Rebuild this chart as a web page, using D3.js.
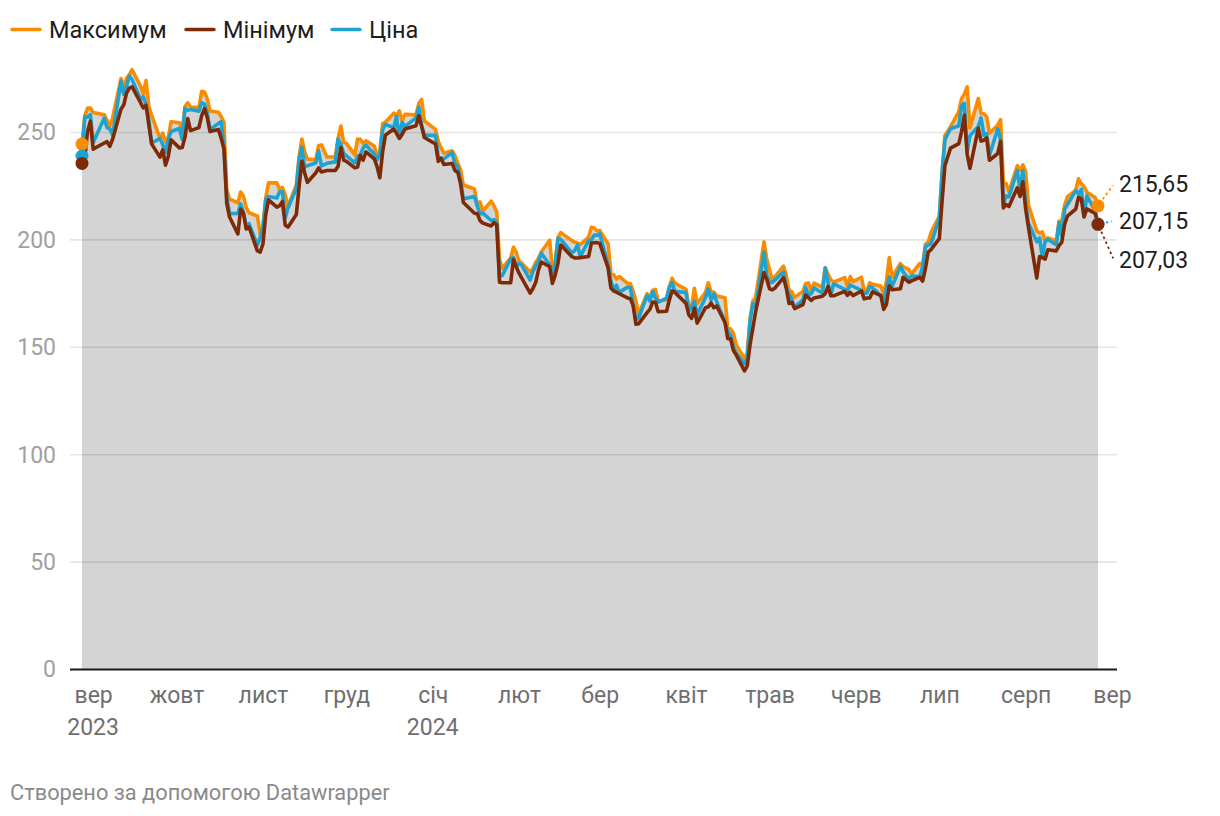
<!DOCTYPE html>
<html><head><meta charset="utf-8">
<script src="https://cdn.jsdelivr.net/npm/d3@7"></script>
<style>
html,body{margin:0;padding:0;background:#fff;}
svg{display:block;font-family:Roboto,"Noto Sans",sans-serif;}
</style>
</head><body>
<svg id="chart" width="1220" height="816"></svg>
<script>
// ---------- DATA ----------
const tradingDays = [
"2023-08-28","2023-08-29","2023-08-30","2023-08-31",
"2023-09-01","2023-09-05","2023-09-06","2023-09-07","2023-09-08","2023-09-11","2023-09-12","2023-09-13","2023-09-14","2023-09-15","2023-09-18","2023-09-19","2023-09-20","2023-09-21","2023-09-22","2023-09-25","2023-09-26","2023-09-27","2023-09-28","2023-09-29",
"2023-10-02","2023-10-03","2023-10-04","2023-10-05","2023-10-06","2023-10-09","2023-10-10","2023-10-11","2023-10-12","2023-10-13","2023-10-16","2023-10-17","2023-10-18","2023-10-19","2023-10-20","2023-10-23","2023-10-24","2023-10-25","2023-10-26","2023-10-27","2023-10-30","2023-10-31",
"2023-11-01","2023-11-02","2023-11-03","2023-11-06","2023-11-07","2023-11-08","2023-11-09","2023-11-10","2023-11-13","2023-11-14","2023-11-15","2023-11-16","2023-11-17","2023-11-20","2023-11-21","2023-11-22","2023-11-24","2023-11-27","2023-11-28","2023-11-29","2023-11-30",
"2023-12-01","2023-12-04","2023-12-05","2023-12-06","2023-12-07","2023-12-08","2023-12-11","2023-12-12","2023-12-13","2023-12-14","2023-12-15","2023-12-18","2023-12-19","2023-12-20","2023-12-21","2023-12-22","2023-12-26","2023-12-27","2023-12-28","2023-12-29",
"2024-01-02","2024-01-03","2024-01-04","2024-01-05","2024-01-08","2024-01-09","2024-01-10","2024-01-11","2024-01-12","2024-01-16","2024-01-17","2024-01-18","2024-01-19","2024-01-22","2024-01-23","2024-01-24","2024-01-25","2024-01-26","2024-01-29","2024-01-30","2024-01-31",
"2024-02-01","2024-02-02","2024-02-05","2024-02-06","2024-02-07","2024-02-08","2024-02-09","2024-02-12","2024-02-13","2024-02-14","2024-02-15","2024-02-16","2024-02-20","2024-02-21","2024-02-22","2024-02-23","2024-02-26","2024-02-27","2024-02-28","2024-02-29",
"2024-03-01","2024-03-04","2024-03-05","2024-03-06","2024-03-07","2024-03-08","2024-03-11","2024-03-12","2024-03-13","2024-03-14","2024-03-15","2024-03-18","2024-03-19","2024-03-20","2024-03-21","2024-03-22","2024-03-25","2024-03-26","2024-03-27","2024-03-28",
"2024-04-01","2024-04-02","2024-04-03","2024-04-04","2024-04-05","2024-04-08","2024-04-09","2024-04-10","2024-04-11","2024-04-12","2024-04-15","2024-04-16","2024-04-17","2024-04-18","2024-04-19","2024-04-22","2024-04-23","2024-04-24","2024-04-25","2024-04-26","2024-04-29","2024-04-30",
"2024-05-01","2024-05-02","2024-05-03","2024-05-06","2024-05-07","2024-05-08","2024-05-09","2024-05-10","2024-05-13","2024-05-14","2024-05-15","2024-05-16","2024-05-17","2024-05-20","2024-05-21","2024-05-22","2024-05-23","2024-05-24","2024-05-28","2024-05-29","2024-05-30","2024-05-31",
"2024-06-03","2024-06-04","2024-06-05","2024-06-06","2024-06-07","2024-06-10","2024-06-11","2024-06-12","2024-06-13","2024-06-14","2024-06-17","2024-06-18","2024-06-20","2024-06-21","2024-06-24","2024-06-25","2024-06-26","2024-06-27","2024-06-28",
"2024-07-01","2024-07-02","2024-07-03","2024-07-05","2024-07-08","2024-07-09","2024-07-10","2024-07-11","2024-07-12","2024-07-15","2024-07-16","2024-07-17","2024-07-18","2024-07-19","2024-07-22","2024-07-23","2024-07-24","2024-07-25","2024-07-26","2024-07-29","2024-07-30","2024-07-31",
"2024-08-01","2024-08-02","2024-08-05","2024-08-06","2024-08-07","2024-08-08","2024-08-09","2024-08-12","2024-08-13","2024-08-14","2024-08-15","2024-08-16","2024-08-19","2024-08-20","2024-08-21","2024-08-22","2024-08-23","2024-08-26","2024-08-27"
];

const maxValues = [
244.38,257.48,261.18,261.18,
259.08,258.00,255.40,252.81,256.52,274.85,270.65,274.98,276.71,278.98,271.44,267.85,273.93,261.97,257.85,247.10,249.55,245.33,247.55,254.77,
254.28,250.65,261.86,263.60,261.65,261.36,268.94,268.60,265.41,259.75,259.18,257.18,254.63,223.00,218.86,216.98,222.05,220.10,214.80,212.41,210.88,202.80,
205.99,219.20,226.37,226.32,223.12,224.15,220.80,215.38,225.40,238.75,246.70,240.88,237.39,237.10,243.62,244.01,238.33,238.33,247.00,252.75,245.22,
244.70,239.37,246.66,246.57,244.58,245.87,243.44,238.99,240.83,253.88,254.50,258.77,257.61,259.84,255.17,258.22,257.97,263.34,265.13,255.19,
251.25,245.68,242.70,240.12,241.25,238.96,235.50,232.50,225.34,223.49,215.67,217.45,213.19,217.80,215.65,212.73,190.58,186.50,191.36,196.36,193.97,
189.88,188.89,184.81,186.50,189.32,191.18,194.12,199.60,186.21,188.89,200.88,203.17,199.44,198.72,198.32,197.57,201.04,205.60,205.30,204.03,
204.14,198.00,184.20,183.56,181.58,182.73,179.53,179.43,176.05,171.17,165.18,174.72,172.82,176.25,176.73,171.20,171.94,178.17,181.91,179.57,
176.75,168.69,168.82,177.19,170.06,175.34,179.81,175.36,175.46,173.68,172.82,158.19,158.33,156.46,150.94,144.44,147.25,163.04,171.34,172.71,198.87,190.95,
185.86,180.80,182.67,187.56,183.26,176.06,175.62,173.00,175.80,179.49,179.74,175.79,179.63,177.75,186.88,183.80,181.30,180.08,182.24,178.15,182.67,180.32,
182.39,175.92,176.15,179.73,179.07,178.29,174.75,180.55,191.50,182.26,188.81,187.20,186.00,183.95,188.80,187.88,197.76,198.72,203.20,
210.89,231.28,248.35,252.37,259.44,265.61,267.59,271.00,251.84,265.60,258.62,258.47,257.14,249.44,253.21,255.76,226.30,226.00,222.28,234.27,232.13,234.68,
231.87,216.13,203.88,202.90,203.49,199.05,200.70,199.26,208.49,208.44,215.88,219.80,222.98,228.22,226.00,224.50,222.00,219.50,215.65
];

const minValues = [
235.35,237.77,250.33,255.05,
242.01,244.86,245.51,243.27,246.67,260.61,262.65,268.10,270.42,271.00,263.76,261.20,262.46,253.49,244.48,238.31,241.66,234.58,238.65,246.35,
242.62,242.80,247.60,256.25,250.65,252.05,257.65,260.90,256.63,250.20,251.19,247.08,242.08,216.78,210.42,202.51,214.11,212.20,204.88,205.77,194.67,194.07,
197.85,211.45,218.40,215.00,215.72,217.64,206.68,205.69,211.61,224.70,236.45,230.96,226.54,231.02,233.34,231.40,232.10,232.10,234.01,242.76,236.91,
236.32,233.29,233.70,239.17,236.85,240.74,237.45,233.87,228.70,240.79,248.53,251.36,249.36,247.00,248.86,251.37,252.91,257.52,252.71,247.43,
244.41,236.32,237.73,234.90,235.30,232.04,231.29,225.95,217.15,212.18,212.01,208.74,207.56,206.27,207.75,206.77,180.06,179.89,179.79,190.61,187.27,
184.28,182.00,175.01,177.11,180.00,185.77,189.48,187.35,179.51,183.35,188.86,197.40,191.95,191.36,191.36,191.50,192.00,198.26,198.44,198.50,
198.15,186.72,177.35,176.02,175.40,174.70,172.75,172.41,169.15,160.51,160.76,165.90,167.42,170.82,170.70,166.30,166.55,171.80,176.00,175.30,
170.21,164.83,163.28,168.01,161.00,168.20,168.60,170.42,168.16,169.04,161.30,153.75,153.78,148.37,146.22,138.80,141.11,151.06,158.60,166.37,184.54,181.38,
177.00,176.51,177.42,182.20,177.40,170.15,170.71,167.82,169.60,174.07,172.86,171.62,172.75,173.52,174.71,178.12,173.85,173.73,175.77,173.93,175.38,173.82,
175.99,172.30,172.73,172.73,175.59,173.81,167.41,169.80,178.40,176.52,177.00,182.37,180.04,180.69,182.39,180.58,186.36,194.05,195.26,
200.35,218.04,234.25,242.46,244.57,250.30,257.86,239.65,233.09,251.73,245.76,246.18,247.20,236.83,240.00,245.63,214.66,216.23,215.33,224.00,220.00,226.79,
214.33,205.78,182.00,192.06,191.48,190.80,195.19,194.67,197.06,198.75,206.94,210.80,214.09,219.56,218.86,210.44,214.21,212.11,207.03
];

const priceValues = [
238.82,257.18,256.90,258.08,
245.01,256.49,251.92,251.49,248.50,273.58,267.48,271.30,276.04,274.39,265.28,266.50,262.59,255.70,244.88,246.99,244.12,240.50,246.38,250.22,
251.60,246.53,261.16,260.05,260.53,259.67,263.62,262.99,258.87,251.12,253.92,254.85,242.68,220.11,211.99,212.08,216.52,212.42,205.76,207.30,197.36,200.84,
205.66,218.51,219.96,219.27,222.18,222.11,209.98,214.65,223.71,237.41,242.84,233.59,234.30,235.60,241.20,234.21,235.45,236.08,246.72,244.14,240.08,
238.83,235.58,238.72,239.37,242.64,243.84,239.74,237.01,239.29,251.05,253.50,252.08,257.22,247.14,254.50,252.54,256.61,261.44,253.18,248.48,
248.42,238.45,237.93,237.49,240.45,234.96,233.94,227.22,218.89,219.91,215.55,211.88,212.19,208.80,209.14,207.83,182.63,183.25,190.93,191.59,187.29,
188.86,187.91,181.06,185.10,187.58,189.56,193.57,188.13,184.02,188.71,200.45,199.95,193.76,194.77,197.41,191.97,199.40,199.73,202.04,201.88,
202.64,188.14,180.74,176.54,178.65,175.34,177.77,177.54,169.48,162.50,163.57,173.80,171.32,175.66,172.82,170.83,172.63,177.67,179.83,175.79,
175.22,166.63,168.38,171.11,164.90,172.98,176.88,171.76,174.60,171.05,161.48,157.11,155.45,149.93,147.05,142.05,144.68,162.13,170.18,168.29,194.05,183.28,
179.99,180.01,181.19,184.76,177.81,174.72,171.97,168.47,171.89,177.55,173.99,174.84,177.46,174.95,186.60,180.11,173.74,179.24,176.75,176.19,178.79,178.08,
176.29,174.77,175.00,177.94,177.48,173.79,170.66,177.29,182.47,178.01,187.44,184.86,181.57,183.01,182.58,187.35,196.37,197.42,197.88,
209.86,231.26,246.39,251.52,252.94,262.33,263.26,241.03,248.23,252.64,256.56,248.50,249.23,239.20,251.51,246.38,215.99,220.25,219.80,232.10,222.62,232.07,
216.86,207.67,198.88,200.64,191.76,198.84,200.00,197.49,207.83,201.38,214.14,216.12,222.72,221.10,223.27,210.66,220.32,213.21,207.15
];

const seriesNames = ["Максимум", "Мінімум", "Ціна"];
const monthTickDates = ["2023-09-01","2023-10-01","2023-11-01","2023-12-01","2024-01-01","2024-02-01","2024-03-01","2024-04-01","2024-05-01","2024-06-01","2024-07-01","2024-08-01","2024-09-01"];
const monthLabels = ["вер","жовт","лист","груд","січ","лют","бер","квіт","трав","черв","лип","серп","вер"];
const yearTickDates = ["2023-09-01","2024-01-01"];
const yearLabels = ["2023","2024"];
const yTicks = [0, 50, 100, 150, 200, 250];
const footerText = "Створено за допомогою Datawrapper";

// ---------- STYLE ----------
const COLORS = { max: "#fa8c00", min: "#7e2a06", price: "#1ea3d1" };
const FONT = "Roboto, 'Noto Sans', sans-serif";

// ---------- BUILD ----------
if (![maxValues, minValues, priceValues].every(a => a.length === tradingDays.length)) {
  console.error("length mismatch", tradingDays.length, maxValues.length, minValues.length, priceValues.length);
}
const parse = d3.timeParse("%Y-%m-%d");
const rows = tradingDays.map((d, i) => ({ date: parse(d), max: maxValues[i], min: minValues[i], price: priceValues[i] }));

const svg = d3.select("#chart");
const plotLeft = 70, plotRight = 1117;
const x = d3.scaleTime().domain(d3.extent(rows, d => d.date)).range([82, 1098]);
const y = d3.scaleLinear().domain([0, 250]).range([669, 132]);

// area under max
svg.append("path")
  .datum(rows)
  .attr("fill", "#d4d4d4")
  .attr("d", d3.area().x(d => x(d.date)).y0(y(0)).y1(d => y(d.max)));

// grid lines and y labels
const yAxis = d3.axisLeft(y).tickValues(yTicks).tickSize(-(plotRight - plotLeft)).tickFormat(d3.format("d"));
const gy = svg.append("g").attr("transform", `translate(${plotLeft},0)`).call(yAxis);
gy.select(".domain").remove();
gy.selectAll(".tick line").attr("stroke", "#000").attr("stroke-opacity", 0.1).attr("stroke-width", 1.6);
gy.selectAll(".tick text")
  .attr("x", -14).attr("dy", "0.34em")
  .attr("fill", "#a0a0a0").style("font-family", FONT).style("font-size", "23px");
gy.selectAll(".tick").filter(d => d === 0).select("line").attr("stroke", "#1a1a1a").attr("stroke-opacity", 1).attr("stroke-width", 2.2);

// x axis labels
const xAxis = d3.axisBottom(x)
  .tickValues(monthTickDates.map(parse))
  .tickSize(0)
  .tickFormat((d, i) => monthLabels[i]);
const gx = svg.append("g").attr("transform", `translate(0,${y(0)})`).call(xAxis);
gx.select(".domain").remove();
gx.selectAll(".tick text").attr("y", 34).attr("dy", 0)
  .attr("fill", "#6f6f6f").style("font-family", FONT).style("font-size", "23px");
const yearsG = svg.append("g");
yearTickDates.forEach((d, i) => {
  yearsG.append("text")
    .attr("x", x(parse(d))).attr("y", y(0) + 66)
    .attr("text-anchor", "middle")
    .attr("fill", "#6f6f6f").style("font-family", FONT).style("font-size", "23px")
    .text(yearLabels[i]);
});

// lines
const series = [
  { key: "max", color: COLORS.max },
  { key: "price", color: COLORS.price },
  { key: "min", color: COLORS.min }
];
series.forEach(s => {
  svg.append("path")
    .datum(rows)
    .attr("fill", "none")
    .attr("stroke", s.color)
    .attr("stroke-width", 3.6)
    .attr("stroke-linejoin", "round")
    .attr("stroke-linecap", "round")
    .attr("d", d3.line().x(d => x(d.date)).y(d => y(d[s.key])));
});

// start & end dots
const first = rows[0], last = rows[rows.length - 1];
["max", "price", "min"].forEach(k => {
  svg.append("circle").attr("cx", x(first.date)).attr("cy", y(first[k])).attr("r", 6.5).attr("fill", COLORS[k]);
});
["max", "price", "min"].forEach(k => {
  svg.append("circle").attr("cx", x(last.date)).attr("cy", y(last[k])).attr("r", 6.5).attr("fill", COLORS[k]);
});

// end value labels with dotted connectors
const fmt = v => v.toFixed(2).replace(".", ",");
const endLabels = [
  { key: "max", dy: -22 },
  { key: "price", dy: -3 },
  { key: "min", dy: 36 }
];
const labelX = 1119;
endLabels.forEach(l => {
  const px = x(last.date), py = y(last[l.key]);
  const ly = py + l.dy;
  const tx = 1114, ty = ly;
  const vx = tx - px, vy = ty - py, len = Math.hypot(vx, vy);
  const sx = px + vx / len * 8, sy = py + vy / len * 8;
  const ex = px + vx / len * (len - 2), ey = py + vy / len * (len - 2);
  svg.append("line")
    .attr("x1", sx).attr("y1", sy).attr("x2", ex).attr("y2", ey)
    .attr("stroke", COLORS[l.key]).attr("stroke-width", 1.8)
    .attr("stroke-dasharray", "2.5,3");
  svg.append("text")
    .attr("x", labelX).attr("y", ly).attr("dy", "0.35em")
    .attr("fill", "#1d1d1d").style("font-family", FONT).style("font-size", "23px")
    .text(fmt(last[l.key]));
});

// legend
const legendItems = [
  { name: seriesNames[0], color: COLORS.max, x: 11 },
  { name: seriesNames[1], color: COLORS.min, x: 185 },
  { name: seriesNames[2], color: COLORS.price, x: 331 }
];
legendItems.forEach(it => {
  svg.append("line").attr("x1", it.x + 1).attr("x2", it.x + 29).attr("y1", 29.5).attr("y2", 29.5)
    .attr("stroke", it.color).attr("stroke-width", 3.4).attr("stroke-linecap", "round");
  svg.append("text").attr("x", it.x + 38).attr("y", 38)
    .attr("fill", "#1d1d1d").style("font-family", FONT).style("font-size", "23.5px")
    .text(it.name);
});

// footer
svg.append("text").attr("x", 10).attr("y", 800)
  .attr("fill", "#8a8a8a").style("font-family", FONT).style("font-size", "21.8px")
  .text(footerText);
</script>
</body></html>
